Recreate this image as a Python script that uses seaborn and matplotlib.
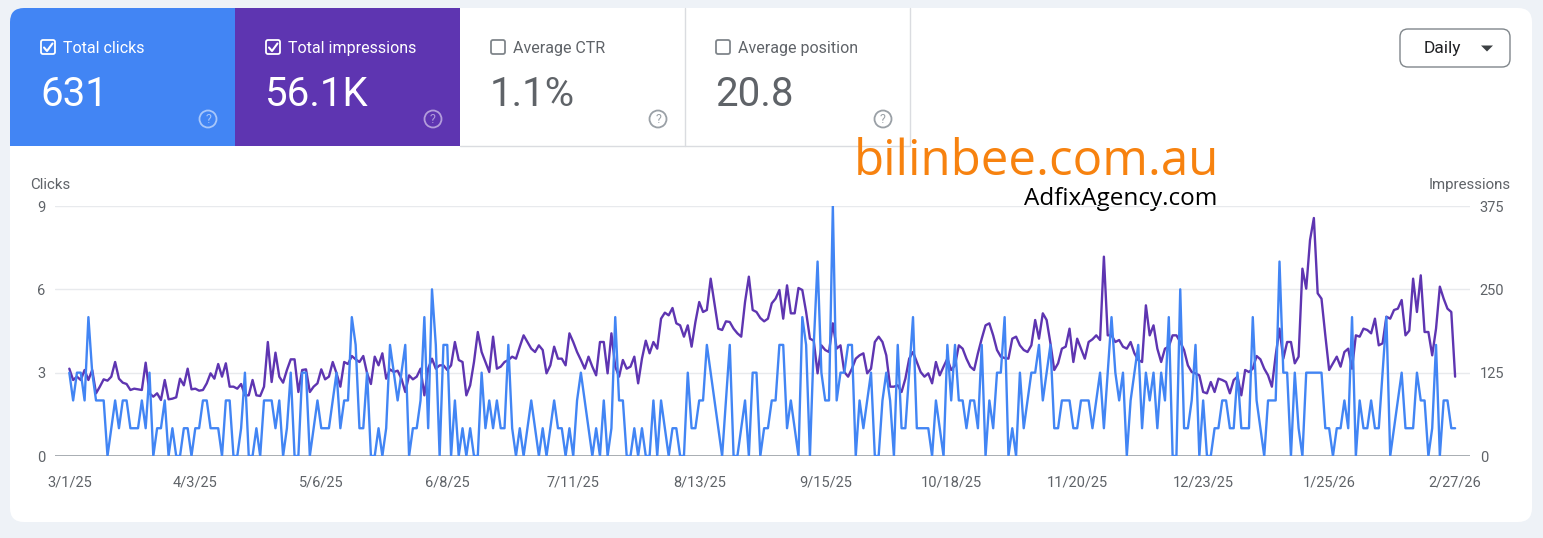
import numpy as np
import pandas as pd
import matplotlib
matplotlib.use("Agg")
import matplotlib.pyplot as plt
import seaborn as sns
from matplotlib.patches import FancyBboxPatch, Rectangle, Circle, Polygon

# ---------------- data ----------------
start_date = "2025-03-01"

clicks = [
    3, 2, 3, 3, 2, 5, 3, 2, 2, 2,
    0, 1, 2, 1, 2, 2, 1, 1, 1, 2,
    1, 3, 0, 1, 1, 2, 0, 1, 0, 0,
    1, 1, 0, 1, 1, 2, 2, 1, 1, 1,
    0, 2, 2, 0, 0, 1, 3, 0, 0, 1,
    0, 2, 2, 2, 1, 2, 0, 1, 3, 0,
    0, 3, 3, 0, 1, 2, 1, 1, 1, 2,
    3, 1, 2, 2, 5, 4, 1, 1, 3, 0,
    0, 1, 0, 1, 4, 3, 2, 3, 4, 0,
    1, 1, 2, 5, 1, 6, 4, 0, 4, 4,
    0, 2, 0, 1, 0, 1, 0, 0, 3, 1,
    2, 1, 2, 1, 1, 4, 1, 0, 1, 0,
    1, 2, 1, 0, 1, 0, 1, 2, 1, 1,
    0, 1, 0, 2, 3, 2, 1, 0, 1, 0,
    2, 0, 1, 5, 2, 2, 0, 0, 1, 0,
    1, 0, 0, 2, 0, 2, 1, 0, 1, 1,
    0, 0, 3, 1, 1, 2, 2, 4, 3, 2,
    1, 0, 2, 4, 0, 0, 1, 2, 0, 3,
    3, 0, 1, 1, 2, 2, 4, 4, 1, 2,
    1, 0, 5, 4, 0, 4, 7, 3, 2, 2,
    9, 2, 3, 3, 4, 4, 0, 2, 1, 2,
    3, 0, 0, 2, 3, 2, 0, 4, 1, 1,
    3, 5, 1, 1, 1, 1, 0, 2, 1, 0,
    4, 2, 4, 2, 2, 1, 2, 2, 1, 4,
    0, 2, 1, 3, 3, 5, 0, 1, 0, 3,
    1, 2, 3, 3, 4, 2, 3, 4, 1, 1,
    2, 2, 2, 1, 1, 2, 2, 2, 1, 2,
    3, 1, 3, 5, 3, 2, 3, 0, 2, 3,
    4, 1, 3, 2, 3, 1, 3, 2, 5, 0,
    0, 6, 1, 1, 2, 4, 0, 2, 0, 0,
    1, 1, 2, 2, 1, 1, 3, 1, 1, 1,
    5, 2, 1, 0, 2, 2, 2, 7, 3, 3,
    0, 3, 1, 0, 3, 3, 3, 3, 3, 1,
    1, 0, 1, 1, 2, 1, 5, 0, 2, 1,
    1, 2, 1, 1, 3, 5, 0, 1, 2, 3,
    1, 1, 1, 3, 2, 2, 0, 1, 4, 0,
    2, 2, 1, 1,
]

impressions = [
    131, 114, 119, 114, 129, 114, 129, 94, 104, 115,
    113, 119, 141, 116, 110, 108, 99, 101, 100, 99,
    140, 94, 89, 94, 84, 114, 85, 86, 88, 116,
    106, 131, 100, 101, 98, 99, 109, 124, 116, 138,
    119, 139, 104, 104, 101, 108, 91, 91, 114, 91,
    90, 104, 171, 111, 155, 119, 110, 129, 145, 145,
    96, 129, 130, 96, 104, 109, 130, 115, 119, 141,
    124, 104, 141, 138, 150, 145, 141, 150, 124, 108,
    149, 136, 154, 116, 130, 126, 128, 116, 96, 121,
    115, 119, 131, 91, 131, 146, 131, 136, 136, 129,
    136, 171, 144, 141, 91, 106, 141, 186, 156, 141,
    126, 179, 131, 134, 141, 144, 149, 146, 164, 181,
    171, 161, 156, 166, 159, 124, 136, 164, 146, 146,
    136, 184, 171, 156, 144, 131, 149, 134, 121, 171,
    171, 124, 184, 134, 119, 144, 131, 134, 149, 109,
    146, 173, 154, 171, 161, 206, 215, 211, 222, 199,
    196, 179, 196, 164, 201, 231, 216, 219, 266, 229,
    191, 189, 202, 201, 191, 184, 179, 231, 269, 219,
    216, 207, 202, 206, 229, 236, 249, 206, 256, 214,
    214, 252, 249, 216, 176, 173, 124, 166, 159, 156,
    199, 161, 166, 126, 119, 131, 146, 151, 154, 124,
    131, 171, 179, 171, 151, 104, 104, 106, 96, 116,
    146, 156, 141, 126, 119, 124, 109, 141, 121, 134,
    146, 129, 136, 166, 161, 146, 134, 129, 154, 176,
    196, 199, 181, 159, 149, 147, 146, 176, 179, 166,
    159, 156, 166, 204, 176, 214, 204, 169, 129, 139,
    161, 164, 191, 141, 176, 161, 146, 171, 175, 181,
    174, 299, 181, 181, 171, 174, 164, 161, 171, 154,
    144, 141, 226, 181, 196, 161, 141, 161, 164, 181,
    181, 171, 159, 136, 126, 124, 121, 96, 94, 111,
    96, 116, 114, 111, 94, 114, 119, 91, 129, 126,
    131, 150, 145, 131, 121, 104, 151, 191, 146, 171,
    171, 139, 149, 281, 251, 324, 357, 244, 236, 181,
    129, 139, 149, 134, 156, 161, 131, 181, 179, 191,
    189, 184, 206, 166, 169, 209, 206, 219, 221, 234,
    181, 188, 266, 216, 271, 186, 186, 151, 191, 254,
    236, 221, 216, 119,
]

tick_labels = ["3/1/25", "4/3/25", "5/6/25", "6/8/25", "7/11/25", "8/13/25",
               "9/15/25", "10/18/25", "11/20/25", "12/23/25", "1/25/26", "2/27/26"]
click_ticks = [0, 3, 6, 9]
impression_ticks = [0, 125, 250, 375]

metric_titles = ["Total clicks", "Total impressions", "Average CTR", "Average position"]
metric_values = ["631", "56.1K", "1.1%", "20.8"]
metric_checked = [True, True, False, False]

# ---------------- style ----------------
sns.set_theme(style="white")
plt.rcParams['font.family'] = ['Roboto', 'DejaVu Sans']

BLUE = "#4285f4"
PURPLE = "#5e35b1"
GREY_TXT = "#5f6368"

W, H = 1543, 538
fig = plt.figure(figsize=(W / 100, H / 100), dpi=100)
fig.patch.set_facecolor("#eef2f7")

bg = fig.add_axes([0, 0, 1, 1])
bg.set_xlim(0, W)
bg.set_ylim(H, 0)
bg.axis("off")
bg.set_zorder(0)

card = FancyBboxPatch((10, 8), 1522, 514, boxstyle="round,pad=0,rounding_size=14",
                      fc="white", ec="none")
bg.add_patch(card)

card_x = [10, 235, 460, 685]
card_fc = [BLUE, PURPLE, "white", "white"]
for i in range(4):
    r = Rectangle((card_x[i], 8), 225, 138, fc=card_fc[i], ec="none")
    bg.add_patch(r)
    r.set_clip_path(card)

# separators
bg.plot([685, 685], [8, 146], color="#dadce0", lw=1)
bg.plot([910, 910], [8, 146], color="#dadce0", lw=1)
bg.plot([460, 910], [146, 146], color="#dadce0", lw=1)

for i in range(4):
    x0 = card_x[i]
    on_color = metric_checked[i]
    txt_col = "white" if i < 2 else GREY_TXT
    box_col = "white" if i < 2 else "#80868b"
    cb = FancyBboxPatch((x0 + 31, 40), 14, 14, boxstyle="round,pad=0,rounding_size=2",
                        fc="none", ec=box_col, lw=1.3)
    bg.add_patch(cb)
    if on_color:
        bg.plot([x0 + 34, x0 + 37, x0 + 42.5], [47.5, 51, 43.5], color="white", lw=1.5,
                solid_capstyle="round")
    bg.text(x0 + 53, 48.5, metric_titles[i], color=txt_col, fontsize=11.5, va="center", ha="left")
    bg.text(x0 + 30, 94, metric_values[i], color=txt_col, fontsize=29, va="center", ha="left")
    q_col = "#a8c7fa" if i == 0 else ("#b39ddb" if i == 1 else "#9aa0a6")
    bg.add_patch(Circle((x0 + 198, 119), 8.5, fc="none", ec=q_col, lw=1.3))
    bg.text(x0 + 198, 119.5, "?", color=q_col, fontsize=9, ha="center", va="center")

# Daily dropdown
bg.add_patch(FancyBboxPatch((1400, 29), 110, 38, boxstyle="round,pad=0,rounding_size=8",
                            fc="white", ec="#80868b", lw=1))
bg.text(1442, 48.5, "Daily", color="#202124", fontsize=12.5, ha="center", va="center")
bg.add_patch(Polygon([(1481, 45.5), (1493, 45.5), (1487, 51.5)], closed=True,
                     fc="#3c4043", ec="none"))

# axis titles
bg.text(30, 185, "Clicks", color=GREY_TXT, fontsize=10.8, ha="left", va="center")
bg.text(1511, 185, "Impressions", color=GREY_TXT, fontsize=10.8, ha="right", va="center")

# watermark
bg.text(1036, 162, "bilinbee.com.au", color="#f7820f", fontsize=35.5, ha="center", va="center",
        family=["Open Sans", "DejaVu Sans"])
bg.text(1121, 199, "AdfixAgency.com", color="black", fontsize=17.5, ha="center", va="center",
        family=["Open Sans", "DejaVu Sans"], zorder=5)

# ---------------- chart ----------------
dates = pd.date_range(start_date, periods=len(clicks), freq="D")
df = pd.DataFrame({"date": dates, "clicks": clicks, "impressions": impressions})

ax = fig.add_axes([55 / W, 1 - 456 / H, (1470 - 55) / W, (456 - 206) / H])
ax2 = ax.twinx()

sns.lineplot(data=df, x="date", y="impressions", ax=ax2, color=PURPLE, lw=1.7)
sns.lineplot(data=df, x="date", y="clicks", ax=ax, color=BLUE, lw=1.7)

ax.set_zorder(ax2.get_zorder() + 1)
ax.patch.set_visible(False)
ax2.patch.set_visible(False)

ax.set_ylim(0, 9)
ax2.set_ylim(0, 375)
ax.set_yticks(click_ticks)
ax2.set_yticks(impression_ticks)
ax.set_xlim(dates[0] - pd.Timedelta(days=3.75), dates[0] + pd.Timedelta(days=366.9))
ax.set_xticks(dates[::33])
ax.set_xticklabels(tick_labels)

ax2.grid(axis="y", color="#e8eaed", lw=1)
ax2.axhline(0, color="#9aa0a6", lw=1.2)
ax.grid(False)

for a in (ax, ax2):
    a.set_xlabel("")
    a.set_ylabel("")
    for s in a.spines.values():
        s.set_visible(False)
ax.tick_params(axis="y", length=0, labelsize=10.5, colors=GREY_TXT, pad=7)
ax.tick_params(axis="x", length=0, labelsize=10.5, colors=GREY_TXT, pad=14)
ax2.tick_params(axis="y", length=0, labelsize=10.5, colors=GREY_TXT, pad=7)

fig.savefig("out.png", dpi=100, facecolor=fig.get_facecolor())
